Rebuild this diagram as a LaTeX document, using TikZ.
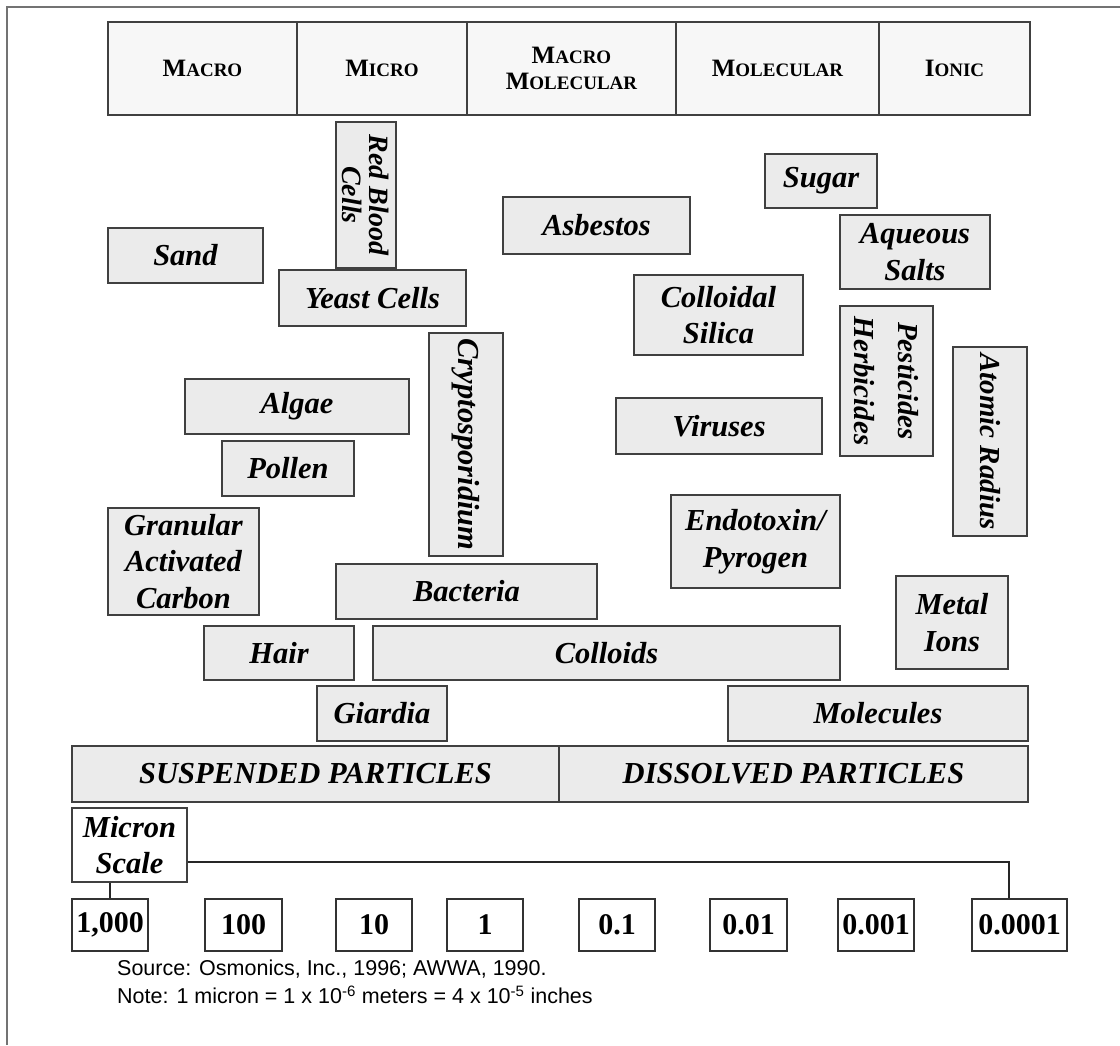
\documentclass[tikz,border=0pt]{standalone}
\usepackage{fontspec}
\setmainfont{Liberation Serif}
\setsansfont{Liberation Sans}
\newcommand{\hsc}[2]{{\fontsize{25}{28}\selectfont #1}{\fontsize{19}{28}\selectfont #2}}
\begin{document}
\begin{tikzpicture}[x=1pt,y=-1pt,
  frame/.style={draw=black!55,line width=2pt},
  hdr/.style={draw=black!75,line width=1.6pt,fill=black!3,inner sep=0pt,align=center,
    font=\bfseries\fontsize{19}{26}\selectfont},
  item/.style={draw=black!75,line width=1.6pt,fill=black!8,inner sep=0pt,align=center,
    font=\bfseries\itshape\fontsize{30.5}{36.5}\selectfont},
  vitem/.style={item,rotate=-90},
  num/.style={draw=black!80,line width=1.4pt,fill=white,inner sep=0pt,
    minimum height=52pt,font=\bfseries\fontsize{30}{34}\selectfont},
  wire/.style={draw=black!85,line width=1.4pt},
  note/.style={anchor=west,inner sep=0pt,font=\sffamily\fontsize{21.5}{24}\selectfont}]
\useasboundingbox (0,0) rectangle (1120,1045);
% outer frame
\draw[frame] (7,1045) -- (7,7) -- (1120,7);
% header
\node[hdr,minimum width=189pt,minimum height=93pt] (hmacro) at (202.5,68.5) {\hsc{M}{ACRO}};
\node[hdr,minimum width=170pt,minimum height=93pt] (hmicro) at (382,68.5) {\hsc{M}{ICRO}};
\node[hdr,minimum width=209pt,minimum height=93pt] (hmm) at (571.5,68.5) {\hsc{M}{ACRO}\\\hsc{M}{OLECULAR}};
\node[hdr,minimum width=203pt,minimum height=93pt] (hmol) at (777.5,68.5) {\hsc{M}{OLECULAR}};
\node[hdr,minimum width=151pt,minimum height=93pt] (hion) at (954.5,68.5) {\hsc{I}{ONIC}};
% items
\node[vitem,minimum width=146pt,minimum height=60pt,font=\bfseries\itshape\fontsize{28}{27}\selectfont] (rbc) at (366,195) {Red Blood\\Cells};
\node[item,minimum width=155pt,minimum height=55pt] (sand) at (185.5,255.5) {Sand};
\node[item,minimum width=187pt,minimum height=56pt] (yeast) at (372.5,298) {Yeast Cells};
\node[item,minimum width=187pt,minimum height=57pt] (asb) at (596.5,225.5) {Asbestos};
\node[item,minimum width=112pt,minimum height=54pt] (sugar) at (821,181) {Sugar};
\node[item,minimum width=150pt,minimum height=74pt] (aq) at (915,252) {Aqueous\\Salts};
\node[item,minimum width=169pt,minimum height=80pt] (silica) at (718.5,315) {Colloidal\\Silica};
\node[vitem,minimum width=150pt,minimum height=93pt,font=\bfseries\itshape\fontsize{29}{44}\selectfont] (pest) at (886.5,381) {Pesticides\\Herbicides};
\node[vitem,minimum width=189pt,minimum height=74pt,font=\bfseries\itshape\fontsize{29}{34}\selectfont] (atom) at (990,441.5) {Atomic Radius};
\node[vitem,minimum width=223pt,minimum height=74pt] (crypto) at (466,444.5) {Cryptosporidium};
\node[item,minimum width=224pt,minimum height=55pt] (algae) at (297,406.5) {Algae};
\node[item,minimum width=206pt,minimum height=56pt] (vir) at (719,426) {Viruses};
\node[item,minimum width=132pt,minimum height=55pt] (pollen) at (288,468.5) {Pollen};
\node[item,minimum width=151pt,minimum height=107pt] (gac) at (183.5,561.5) {Granular\\Activated\\Carbon};
\node[item,minimum width=169pt,minimum height=93pt] (endo) at (755.5,541.5) {Endotoxin/\\Pyrogen};
\node[item,minimum width=261pt,minimum height=55pt] (bact) at (466.5,591.5) {Bacteria};
\node[item,minimum width=112pt,minimum height=93pt] (metal) at (952,622.5) {Metal\\Ions};
\node[item,minimum width=150pt,minimum height=54pt] (hair) at (279,653) {Hair};
\node[item,minimum width=467pt,minimum height=54pt] (coll) at (606.5,653) {Colloids};
\node[item,minimum width=130pt,minimum height=55pt] (giar) at (382,713.5) {Giardia};
\node[item,minimum width=300pt,minimum height=55pt] (molec) at (878,713.5) {Molecules};
\node[item,minimum width=487pt,minimum height=56pt] (susp) at (315.5,774) {SUSPENDED PARTICLES};
\node[item,minimum width=469pt,minimum height=56pt] (diss) at (793.5,774) {DISSOLVED PARTICLES};
% scale
\node[item,fill=white,minimum width=115pt,minimum height=74pt] (micron) at (129.5,845) {Micron\\Scale};
\node[num,minimum width=76pt] (n1) at (110,925) {1,000};
\node[num,minimum width=77pt] (n2) at (243.5,925) {100};
\node[num,minimum width=76pt] (n3) at (374,925) {10};
\node[num,minimum width=76pt] (n4) at (485,925) {1};
\node[num,minimum width=76pt] (n5) at (617,925) {0.1};
\node[num,minimum width=77pt] (n6) at (748.5,925) {0.01};
\node[num,minimum width=76pt] (n7) at (876,925) {0.001};
\node[num,minimum width=95pt] (n8) at (1019.5,925) {0.0001};
\coordinate (drop) at ([xshift=-10.5pt]n8.north);
\draw[wire] ([yshift=-17pt]micron.east) -| (drop);
\draw[wire] (n1.north) -- (n1.north |- micron.south);
% notes
\node[note] (src) at (117,969) {Source: Osmonics, Inc., 1996; AWWA, 1990.};
\node[note] (nt) at (117,995) {Note: 1 micron = 1 x 10\textsuperscript{-6} meters = 4 x 10\textsuperscript{-5} inches};
\end{tikzpicture}
\end{document}
